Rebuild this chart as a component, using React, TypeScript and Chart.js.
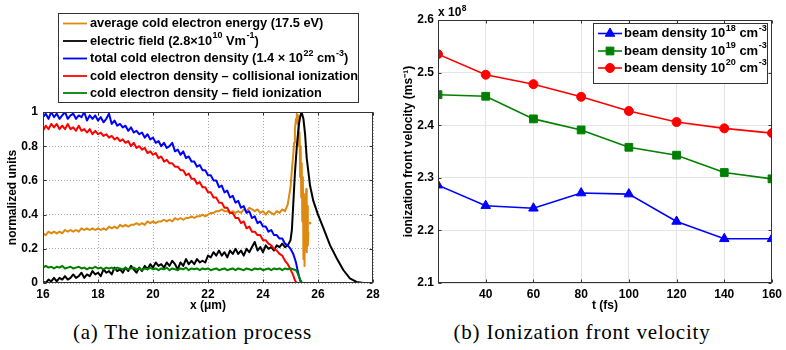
import React, { useEffect, useRef } from 'react';
import { Chart, registerables } from 'chart.js';

Chart.register(...registerables);

const FONT = '"Liberation Sans", Arial, Helvetica, sans-serif';

// ---------- (a) The ionization process ----------
const X_GRID = [
  16.0, 16.1, 16.2, 16.3, 16.4, 16.5, 16.6, 16.7, 16.8, 16.9,
  17.0, 17.1, 17.2, 17.3, 17.4, 17.5, 17.6, 17.7, 17.8, 17.9,
  18.0, 18.1, 18.2, 18.3, 18.4, 18.5, 18.6, 18.7, 18.8, 18.9,
  19.0, 19.1, 19.2, 19.3, 19.4, 19.5, 19.6, 19.7, 19.8, 19.9,
  20.0, 20.1, 20.2, 20.3, 20.4, 20.5, 20.6, 20.7, 20.8, 20.9,
  21.0, 21.1, 21.2, 21.3, 21.4, 21.5, 21.6, 21.7, 21.8, 21.9,
  22.0, 22.1, 22.2, 22.3, 22.4, 22.5, 22.6, 22.7, 22.8, 22.9,
  23.0, 23.1, 23.2, 23.3, 23.4, 23.5, 23.6, 23.7, 23.8, 23.9,
  24.0, 24.1, 24.2, 24.3, 24.4, 24.5, 24.6, 24.7, 24.8, 24.9,
  25.0,
];

const ENERGY_BODY = [
  0.29, 0.28, 0.30, 0.29, 0.30, 0.29, 0.30, 0.29, 0.31, 0.30,
  0.31, 0.30, 0.31, 0.30, 0.32, 0.31, 0.32, 0.31, 0.32, 0.31,
  0.32, 0.31, 0.32, 0.31, 0.33, 0.32, 0.33, 0.32, 0.34, 0.33,
  0.34, 0.33, 0.34, 0.34, 0.35, 0.34, 0.35, 0.34, 0.36, 0.35,
  0.36, 0.35, 0.36, 0.36, 0.37, 0.36, 0.37, 0.36, 0.38, 0.37,
  0.38, 0.37, 0.38, 0.38, 0.39, 0.38, 0.39, 0.39, 0.40, 0.39,
  0.40, 0.41, 0.41, 0.42, 0.42, 0.43, 0.42, 0.42, 0.41, 0.42,
  0.41, 0.42, 0.41, 0.43, 0.42, 0.44, 0.43, 0.42, 0.43, 0.41,
  0.42, 0.40, 0.42, 0.41, 0.40, 0.42, 0.41, 0.43, 0.42, 0.46,
  0.56,
];
const ENERGY_TAIL_X = [25.05, 25.1, 25.13, 25.16, 25.2, 25.23, 25.26, 25.29, 25.31, 25.33, 25.35, 25.37, 25.39, 25.41, 25.43, 25.45, 25.47, 25.49, 25.51, 25.53, 25.55, 25.57, 25.59, 25.61, 25.63, 25.65];
const ENERGY_TAIL_Y = [0.66, 0.75, 0.82, 0.9, 0.96, 0.99, 0.93, 0.98, 0.8, 0.88, 0.62, 0.8, 0.5, 0.7, 0.36, 0.62, 0.14, 0.45, 0.1, 0.52, 0.25, 0.55, 0.18, 0.45, 0.22, 0.3];
const ENERGY_DOT_X = [25.71];
const ENERGY_DOT_Y = [0.35];

const FIELD_BODY = [
  0.01, 0.0, 0.02, 0.01, 0.03, 0.01, 0.03, 0.02, 0.04, 0.02,
  0.03, 0.05, 0.03, 0.04, 0.06, 0.03, 0.05, 0.04, 0.07, 0.05,
  0.06, 0.04, 0.08, 0.06, 0.07, 0.05, 0.09, 0.07, 0.08, 0.06,
  0.09, 0.07, 0.10, 0.08, 0.06, 0.09, 0.07, 0.10, 0.08, 0.11,
  0.09, 0.12, 0.10, 0.11, 0.09, 0.12, 0.10, 0.13, 0.11, 0.08,
  0.12, 0.10, 0.14, 0.11, 0.13, 0.11, 0.14, 0.12, 0.13, 0.12,
  0.16, 0.15, 0.18, 0.16, 0.19, 0.16, 0.18, 0.15, 0.19, 0.17,
  0.20, 0.17, 0.19, 0.16, 0.20, 0.18, 0.21, 0.24, 0.19, 0.21,
  0.18, 0.22, 0.20, 0.21, 0.19, 0.22, 0.21, 0.23, 0.21, 0.22,
  0.25,
];
const FIELD_TAIL_X = [25.05, 25.1, 25.16, 25.23, 25.3, 25.35, 25.4, 25.47, 25.53, 25.59, 25.71, 25.83, 26.0, 26.2, 26.44, 26.68, 26.92, 27.16, 27.4, 27.65, 28.0];
const FIELD_TAIL_Y = [0.31, 0.46, 0.64, 0.8, 0.92, 0.97, 1.0, 0.96, 0.87, 0.73, 0.57, 0.48, 0.4, 0.32, 0.22, 0.145, 0.076, 0.027, 0.006, 0, 0];

const TOTAL_BODY = [
  0.97, 0.99, 0.96, 1.00, 0.97, 0.99, 0.96, 0.98, 1.00, 0.96,
  0.98, 0.99, 0.96, 0.98, 0.97, 1.00, 0.95, 0.98, 0.96, 0.98,
  0.95, 0.97, 0.94, 0.96, 0.99, 0.93, 0.95, 0.92, 0.93, 0.91,
  0.92, 0.89, 0.91, 0.88, 0.89, 0.87, 0.88, 0.85, 0.87, 0.84,
  0.85, 0.82, 0.83, 0.80, 0.82, 0.79, 0.80, 0.82, 0.77, 0.78,
  0.75, 0.77, 0.73, 0.74, 0.71, 0.71, 0.68, 0.69, 0.66, 0.66,
  0.63, 0.63, 0.60, 0.60, 0.56, 0.57, 0.53, 0.54, 0.50, 0.51,
  0.47, 0.48, 0.44, 0.45, 0.41, 0.42, 0.38, 0.39, 0.35, 0.36,
  0.33, 0.33, 0.30, 0.31, 0.28, 0.28, 0.26, 0.26, 0.23, 0.22,
  0.20,
];
const TOTAL_TAIL_X = [25.1, 25.2, 25.25, 25.3, 25.35, 25.4];
const TOTAL_TAIL_Y = [0.17, 0.12, 0.08, 0.045, 0.015, 0];

const COLL_BODY = [
  0.89, 0.92, 0.90, 0.93, 0.91, 0.93, 0.90, 0.92, 0.90, 0.93,
  0.90, 0.91, 0.89, 0.92, 0.89, 0.90, 0.88, 0.90, 0.87, 0.89,
  0.87, 0.88, 0.86, 0.87, 0.85, 0.86, 0.84, 0.85, 0.83, 0.84,
  0.82, 0.83, 0.80, 0.82, 0.79, 0.80, 0.78, 0.79, 0.76, 0.77,
  0.75, 0.76, 0.73, 0.74, 0.71, 0.72, 0.70, 0.70, 0.68, 0.68,
  0.66, 0.66, 0.63, 0.64, 0.61, 0.61, 0.58, 0.59, 0.56, 0.56,
  0.53, 0.53, 0.50, 0.50, 0.47, 0.47, 0.44, 0.44, 0.41, 0.41,
  0.38, 0.38, 0.35, 0.36, 0.32, 0.33, 0.30, 0.30, 0.28, 0.28,
  0.25, 0.25, 0.23, 0.22, 0.20, 0.19, 0.17, 0.16, 0.13, 0.11,
  0.08,
];
const COLL_TAIL_X = [25.1, 25.15, 25.2, 25.25];
const COLL_TAIL_Y = [0.045, 0.02, 0.005, 0];

const FIELDION_BODY = [
  0.09, 0.10, 0.09, 0.095, 0.085, 0.095, 0.09, 0.10, 0.085, 0.09,
  0.095, 0.085, 0.09, 0.095, 0.085, 0.09, 0.08, 0.09, 0.085, 0.095,
  0.085, 0.09, 0.08, 0.09, 0.085, 0.09, 0.08, 0.09, 0.085, 0.08,
  0.09, 0.08, 0.085, 0.09, 0.08, 0.085, 0.075, 0.085, 0.08, 0.09,
  0.08, 0.085, 0.075, 0.085, 0.08, 0.09, 0.075, 0.085, 0.08, 0.075,
  0.085, 0.08, 0.09, 0.075, 0.085, 0.08, 0.085, 0.075, 0.085, 0.08,
  0.085, 0.075, 0.08, 0.085, 0.075, 0.08, 0.085, 0.075, 0.08, 0.085,
  0.075, 0.085, 0.08, 0.075, 0.085, 0.08, 0.075, 0.085, 0.08, 0.085,
  0.075, 0.08, 0.085, 0.075, 0.085, 0.08, 0.085, 0.075, 0.085, 0.08,
  0.085,
];
const FIELDION_TAIL_X = [25.1, 25.2, 25.25, 25.3, 25.35, 25.4, 25.45, 26.0];
const FIELDION_TAIL_Y = [0.08, 0.075, 0.06, 0.04, 0.02, 0.005, 0, 0];

const A_LABELS = [
  'average cold electron energy (17.5 eV)',
  'electric field (2.8×10^{10} Vm^{-1})',
  'total cold electron density (1.4 × 10^{22} cm^{-3})',
  'cold electron density – collisional ionization',
  'cold electron density – field ionization',
];
const A_COLORS = ['#de8a12', '#000000', '#0000ff', '#ff0000', '#008000'];
const A_X_TITLE = 'x (μm)';
const A_Y_TITLE = 'normalized units';

// ---------- (b) Ionization front velocity ----------
const T_FS = [20, 40, 60, 80, 100, 120, 140, 160];
const V_1E18 = [2.286, 2.247, 2.242, 2.271, 2.269, 2.217, 2.184, 2.184];
const V_1E19 = [2.458, 2.455, 2.412, 2.391, 2.358, 2.343, 2.31, 2.298];
const V_1E20 = [2.535, 2.496, 2.478, 2.454, 2.427, 2.406, 2.394, 2.385];
const B_LABELS = ['beam density 10^{18} cm^{-3}', 'beam density 10^{19} cm^{-3}', 'beam density 10^{20} cm^{-3}'];
const B_COLORS = ['#0000ff', '#008000', '#ff0000'];
const B_STYLES = ['triangle', 'rect', 'circle'];
const B_X_TITLE = 't (fs)';
const B_Y_TITLE = 'ionization front velocity (ms⁻¹)';
const B_EXPONENT = 'x 10^{8}';

const CAPTION_A = '(a) The ionization process';
const CAPTION_B = '(b) Ionization front velocity';

function joinSeries(xs: number[], ys: number[], tx: number[], ty: number[]) {
  const pts = xs.map((x, i) => ({ x, y: ys[i] }));
  tx.forEach((x, i) => pts.push({ x, y: ty[i] }));
  return pts;
}

function drawRich(ctx: CanvasRenderingContext2D, text: string, x: number, y: number, size: number) {
  const parts = text.split(/(\^\{[^}]*\})/);
  let cx = x;
  ctx.textBaseline = 'middle';
  ctx.textAlign = 'left';
  for (const p of parts) {
    if (!p) continue;
    if (p.startsWith('^{')) {
      const s = p.slice(2, -1);
      ctx.font = `bold ${size * 0.7}px ${FONT}`;
      ctx.fillText(s, cx + 0.5, y - size * 0.4);
      cx += ctx.measureText(s).width + 0.5;
    } else {
      ctx.font = `bold ${size}px ${FONT}`;
      ctx.fillText(p, cx, y);
      cx += ctx.measureText(p).width;
    }
  }
  return cx - x;
}

function drawMarker(ctx: CanvasRenderingContext2D, style: string, x: number, y: number, r: number) {
  ctx.beginPath();
  if (style === 'circle') {
    ctx.arc(x, y, r, 0, Math.PI * 2);
  } else if (style === 'rect') {
    const s = r * Math.SQRT1_2;
    ctx.rect(x - s, y - s, 2 * s, 2 * s);
  } else {
    ctx.moveTo(x, y - r);
    ctx.lineTo(x + r * 0.866, y + r * 0.5);
    ctx.lineTo(x - r * 0.866, y + r * 0.5);
    ctx.closePath();
  }
  ctx.fill();
  ctx.stroke();
}

const framePlugin = {
  id: 'frame',
  afterDraw(chart: any, _args: any, opts: any) {
    const { ctx, chartArea: a } = chart;
    const xs = chart.scales.x;
    const ys = chart.scales.y;
    ctx.save();
    ctx.strokeStyle = opts.color || '#000';
    ctx.lineWidth = 1;
    const L = Math.round(a.left) + 0.5;
    const R = Math.round(a.right) - 0.5;
    const T = Math.round(a.top) + 0.5;
    const B = Math.round(a.bottom) - 0.5;
    ctx.strokeRect(L, T, R - L, B - T);
    const tl = opts.tickLen || 3;
    ctx.beginPath();
    xs.ticks.forEach((t: any) => {
      const px = Math.round(xs.getPixelForValue(t.value)) + 0.5;
      ctx.moveTo(px, B); ctx.lineTo(px, B - tl);
      ctx.moveTo(px, T); ctx.lineTo(px, T + tl);
    });
    ys.ticks.forEach((t: any) => {
      const py = Math.round(ys.getPixelForValue(t.value)) + 0.5;
      ctx.moveTo(L, py); ctx.lineTo(L + tl, py);
      ctx.moveTo(R, py); ctx.lineTo(R - tl, py);
    });
    ctx.stroke();
    ctx.restore();
  },
};

const legendBoxPlugin = {
  id: 'legendBox',
  afterDraw(chart: any, _args: any, opts: any) {
    if (!opts || !opts.items) return;
    const { ctx } = chart;
    const [bx, by, bw, bh] = opts.box;
    ctx.save();
    ctx.fillStyle = '#fff';
    ctx.fillRect(bx, by, bw, bh);
    ctx.strokeStyle = '#333';
    ctx.lineWidth = 1;
    ctx.strokeRect(bx + 0.5, by + 0.5, bw - 1, bh - 1);
    opts.items.forEach((it: any, i: number) => {
      const y = opts.rowY[i];
      ctx.strokeStyle = it.color;
      ctx.lineWidth = opts.lineWidth || 1.5;
      ctx.beginPath();
      ctx.moveTo(opts.lineX0, y);
      ctx.lineTo(opts.lineX1, y);
      ctx.stroke();
      if (it.marker) {
        ctx.fillStyle = it.color;
        ctx.lineWidth = 1;
        drawMarker(ctx, it.marker, (opts.lineX0 + opts.lineX1) / 2, y, it.radius);
      }
      ctx.fillStyle = '#000';
      drawRich(ctx, it.label, opts.textX, y, opts.fontSize);
    });
    ctx.restore();
  },
};

const exponentPlugin = {
  id: 'exponent',
  afterDraw(chart: any, _args: any, opts: any) {
    if (!opts || !opts.text) return;
    const { ctx } = chart;
    ctx.save();
    ctx.fillStyle = '#000';
    drawRich(ctx, opts.text, opts.x, opts.y, opts.size);
    ctx.restore();
  },
};

export default function App() {
  const leftRef = useRef<HTMLCanvasElement>(null);
  const rightRef = useRef<HTMLCanvasElement>(null);

  useEffect(() => {
    const tickFont = { family: FONT, size: 12, weight: 'bold' as const };
    const titleFont = { family: FONT, size: 12, weight: 'bold' as const };

    const energy = joinSeries(X_GRID, ENERGY_BODY, ENERGY_TAIL_X, ENERGY_TAIL_Y);
    const field = joinSeries(X_GRID, FIELD_BODY, FIELD_TAIL_X, FIELD_TAIL_Y);
    const total = joinSeries(X_GRID, TOTAL_BODY, TOTAL_TAIL_X, TOTAL_TAIL_Y);
    const coll = joinSeries(X_GRID, COLL_BODY, COLL_TAIL_X, COLL_TAIL_Y);
    const fion = joinSeries(X_GRID, FIELDION_BODY, FIELDION_TAIL_X, FIELDION_TAIL_Y);
    const dot = ENERGY_DOT_X.map((x, i) => ({ x, y: ENERGY_DOT_Y[i] }));

    const lineDs = (label: string, data: any[], color: string) => ({
      label, data, borderColor: color, backgroundColor: color, borderWidth: 2,
      pointRadius: 0, tension: 0, fill: false, borderJoinStyle: 'round' as const,
    });

    const left = new Chart(leftRef.current!, {
      type: 'line',
      data: {
        datasets: [
          lineDs(A_LABELS[4], fion, A_COLORS[4]),
          lineDs(A_LABELS[3], coll, A_COLORS[3]),
          lineDs(A_LABELS[2], total, A_COLORS[2]),
          lineDs(A_LABELS[1], field, A_COLORS[1]),
          lineDs(A_LABELS[0], energy, A_COLORS[0]),
          { label: 'energy point', data: dot, showLine: false, pointRadius: 1.3, borderWidth: 0, pointBackgroundColor: A_COLORS[0], borderColor: A_COLORS[0] },
        ],
      },
      options: {
        responsive: false,
        animation: false,
        layout: { padding: { top: 112, right: 17, left: 0, bottom: 0 } },
        plugins: {
          legend: { display: false },
          tooltip: { enabled: false },
          frame: { color: '#333', tickLen: 3 },
          legendBox: {
            box: [58, 13, 301, 90],
            rowY: [23.5, 41, 58.5, 76, 93],
            lineX0: 63, lineX1: 87, textX: 90, fontSize: 12.8, lineWidth: 1.8,
            items: A_LABELS.map((label, i) => ({ label, color: A_COLORS[i] })),
          },
        } as any,
        scales: {
          x: {
            type: 'linear', min: 16, max: 28,
            afterFit: (s: any) => { s.height = 32; },
            ticks: { stepSize: 2, font: tickFont, color: '#000', padding: 4, maxRotation: 0 },
            grid: { color: '#a8a8a8', drawTicks: false, lineWidth: 1 },
            border: { display: false, dash: [1, 2] },
            title: { display: true, text: A_X_TITLE, font: titleFont, color: '#000', padding: { top: 0, bottom: 2 } },
          },
          y: {
            min: 0, max: 1,
            afterFit: (s: any) => { s.width = 43; },
            ticks: { stepSize: 0.2, font: tickFont, color: '#000', padding: 5, callback: (v: any) => (v === 0 || v === 1 ? String(v) : Number(v).toFixed(1)) },
            grid: { color: '#a8a8a8', drawTicks: false, lineWidth: 1 },
            border: { display: false, dash: [1, 2] },
            title: { display: true, text: A_Y_TITLE, font: titleFont, color: '#000', padding: { top: 5, bottom: 0 } },
          },
        },
      } as any,
      plugins: [framePlugin, legendBoxPlugin],
    });

    const bData = [V_1E18, V_1E19, V_1E20];
    const right = new Chart(rightRef.current!, {
      type: 'line',
      data: {
        datasets: [2, 1, 0].map((k) => ({
          label: B_LABELS[k],
          data: T_FS.map((t, i) => ({ x: t, y: bData[k][i] })),
          borderColor: B_COLORS[k],
          backgroundColor: B_COLORS[k],
          pointBackgroundColor: B_COLORS[k],
          pointBorderColor: B_COLORS[k],
          pointStyle: B_STYLES[k],
          pointRadius: k === 0 ? 5.5 : k === 1 ? 5.5 : 4.5,
          pointBorderWidth: 1,
          borderWidth: 1.6,
          tension: 0,
        })),
      },
      options: {
        responsive: false,
        animation: false,
        layout: { padding: { top: 20, right: 13, left: 0, bottom: 0 } },
        plugins: {
          legend: { display: false },
          tooltip: { enabled: false },
          frame: { color: '#333', tickLen: 3 },
          legendBox: {
            box: [203, 23, 175, 61],
            rowY: [33.5, 51, 68],
            lineX0: 208, lineX1: 232, textX: 234, fontSize: 13, lineWidth: 1.6,
            items: [0, 1, 2].map((k) => ({ label: B_LABELS[k], color: B_COLORS[k], marker: B_STYLES[k], radius: k === 2 ? 4.5 : 5.5 })),
          },
          exponent: { text: B_EXPONENT, x: 48, y: 13, size: 12 },
        } as any,
        scales: {
          x: {
            type: 'linear', min: 20, max: 160,
            afterFit: (s: any) => { s.height = 32; },
            ticks: { stepSize: 20, font: tickFont, color: '#000', padding: 4, maxRotation: 0, callback: (v: any) => (v === 20 ? '' : String(v)) },
            grid: { color: '#e4e4e4', drawTicks: false, lineWidth: 1 },
            border: { display: false },
            title: { display: true, text: B_X_TITLE, font: titleFont, color: '#000', padding: { top: 0, bottom: 2 } },
          },
          y: {
            min: 2.1, max: 2.6,
            afterFit: (s: any) => { s.width = 48; },
            ticks: { stepSize: 0.1, font: tickFont, color: '#000', padding: 4, callback: (v: any) => Number(v).toFixed(1) },
            grid: { color: '#e4e4e4', drawTicks: false, lineWidth: 1 },
            border: { display: false },
            title: { display: true, text: B_Y_TITLE, font: titleFont, color: '#000', padding: { top: 11, bottom: 0 } },
          },
        },
      } as any,
      plugins: [framePlugin, legendBoxPlugin, exponentPlugin],
    });

    return () => {
      left.destroy();
      right.destroy();
    };
  }, []);

  const captionStyle: React.CSSProperties = {
    position: 'absolute', top: 322, fontFamily: '"Liberation Serif", "DejaVu Serif", serif',
    fontSize: 21, lineHeight: '21px', letterSpacing: '0.8px', textAlign: 'center', color: '#000', whiteSpace: 'nowrap',
  };

  return (
    <div style={{ position: 'absolute', left: 0, top: 0, width: 786, height: 350, background: '#fff', overflow: 'hidden' }}>
      <canvas ref={leftRef} width={390} height={315} style={{ position: 'absolute', left: 0, top: 0 }} />
      <canvas ref={rightRef} width={396} height={315} style={{ position: 'absolute', left: 390, top: 0 }} />
      <div style={{ ...captionStyle, left: 0, width: 385 }}>{CAPTION_A}</div>
      <div style={{ ...captionStyle, left: 390, width: 384 }}>{CAPTION_B}</div>
    </div>
  );
}
